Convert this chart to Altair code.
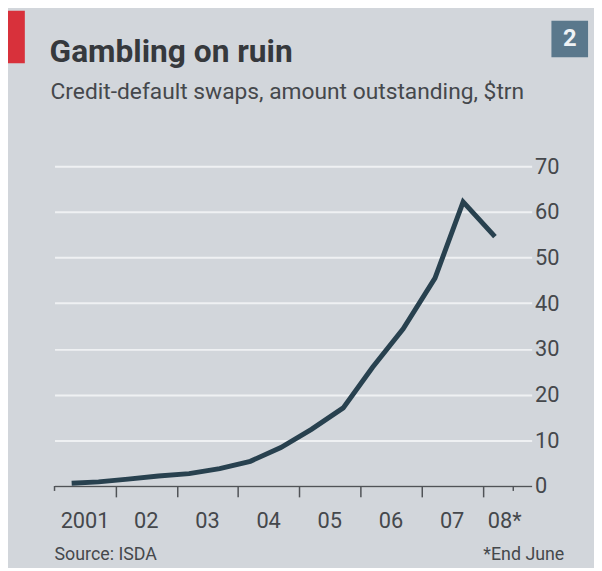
import altair as alt
import pandas as pd

# ---- data ----
# x positions (fractional years, as plotted) and CDS outstanding, $trn
x_pos = [2001.28, 2001.72, 2002.2, 2002.7, 2003.2, 2003.7, 2004.2, 2004.7,
         2005.2, 2005.72, 2006.2, 2006.7, 2007.22, 2007.68, 2008.2]
values = [0.6, 0.9, 1.5, 2.2, 2.7, 3.8, 5.4, 8.4,
          12.4, 17.1, 26.0, 34.4, 45.5, 62.2, 54.6]

year_labels = ["2001", "02", "03", "04", "05", "06", "07", "08*"]
year_label_pos = [2001.5, 2002.5, 2003.5, 2004.5, 2005.5, 2006.5, 2007.5, 2008.36]
year_ticks = [2002, 2003, 2004, 2005, 2006, 2007, 2008]
minor_ticks = [2001, 2008.5]
y_ticks = [0, 10, 20, 30, 40, 50, 60, 70]

title_text = "Gambling on ruin"
subtitle_text = "Credit-default swaps, amount outstanding, $trn"
source_text = "Source: ISDA"
note_text = "*End June"
chart_number = "2"

FONT = "Roboto"
BG = "#d2d6db"
TXT = "#45484c"
AXIS = "#505357"
LINE = "#28414f"

df = pd.DataFrame({"year": x_pos, "value": values})
lab = pd.DataFrame({"pos": year_label_pos, "label": year_labels})
mt = pd.DataFrame({"pos": minor_ticks})

xscale = alt.Scale(domain=[2001, 2008.8], nice=False, zero=False)
yscale = alt.Scale(domain=[0, 70], nice=False)

line = alt.Chart(df).mark_line(
    color=LINE, strokeWidth=5, strokeJoin="miter", strokeCap="butt"
).encode(
    x=alt.X("year:Q", scale=xscale,
            axis=alt.Axis(values=year_ticks, labels=False, ticks=True, tickSize=11,
                          tickColor=AXIS, tickWidth=1.5, domain=True,
                          domainColor=AXIS, domainWidth=1.5, grid=False,
                          title=None, orient="bottom")),
    y=alt.Y("value:Q", scale=yscale,
            axis=alt.Axis(values=y_ticks, orient="right", grid=True,
                          gridColor="#eff1f3", gridWidth=2, domain=False,
                          ticks=False, labelPadding=3, labelFontSize=22,
                          labelFont=FONT, labelColor=TXT, labelAlign="left",
                          labelBaseline="middle", title=None)),
)

minor = alt.Chart(mt).mark_rule(color=AXIS, strokeWidth=1.5).encode(
    x=alt.X("pos:Q", scale=xscale),
    y=alt.value(323),
    y2=alt.value(328),
)

labels = alt.Chart(lab).mark_text(
    font=FONT, fontSize=22, color=TXT, align="center", baseline="alphabetic"
).encode(
    x=alt.X("pos:Q", scale=xscale),
    y=alt.value(365),
    text="label:N",
)

one = alt.Data(values=[{}])

red_bar = alt.Chart(one).mark_rect(color="#d8313b").encode(
    x=alt.value(-47), x2=alt.value(-30), y=alt.value(-157), y2=alt.value(-104)
)
num_box = alt.Chart(one).mark_rect(color="#5a788c").encode(
    x=alt.value(502), x2=alt.value(539), y=alt.value(-147), y2=alt.value(-110)
)
num_text = alt.Chart(one).mark_text(
    text=chart_number, font=FONT, fontSize=24, fontWeight="bold",
    color="#eef2f5", align="center", baseline="middle"
).encode(x=alt.value(520.5), y=alt.value(-128))

title = alt.Chart(one).mark_text(
    text=title_text, font=FONT, fontSize=32, fontWeight="bold",
    color="#36393d", align="left", baseline="alphabetic"
).encode(x=alt.value(-5), y=alt.value(-105))

subtitle = alt.Chart(one).mark_text(
    text=subtitle_text, font=FONT, fontSize=23, color=TXT,
    align="left", baseline="alphabetic"
).encode(x=alt.value(-4), y=alt.value(-68))

source = alt.Chart(one).mark_text(
    text=source_text, font=FONT, fontSize=18, color=TXT,
    align="left", baseline="alphabetic"
).encode(x=alt.value(0), y=alt.value(398))

note = alt.Chart(one).mark_text(
    text=note_text, font=FONT, fontSize=18, color=TXT,
    align="right", baseline="alphabetic"
).encode(x=alt.value(515), y=alt.value(398))

chart = alt.layer(
    line, minor, labels, red_bar, num_box, num_text, title, subtitle, source, note
).properties(
    width=482, height=323,
    padding={"left": 47, "top": 157, "right": 63, "bottom": 80},
    autosize=alt.AutoSizeParams(type="none"),
    background=BG,
).configure_view(stroke=None)

chart.save("out.html", embed_options={"renderer": "svg", "actions": False})
